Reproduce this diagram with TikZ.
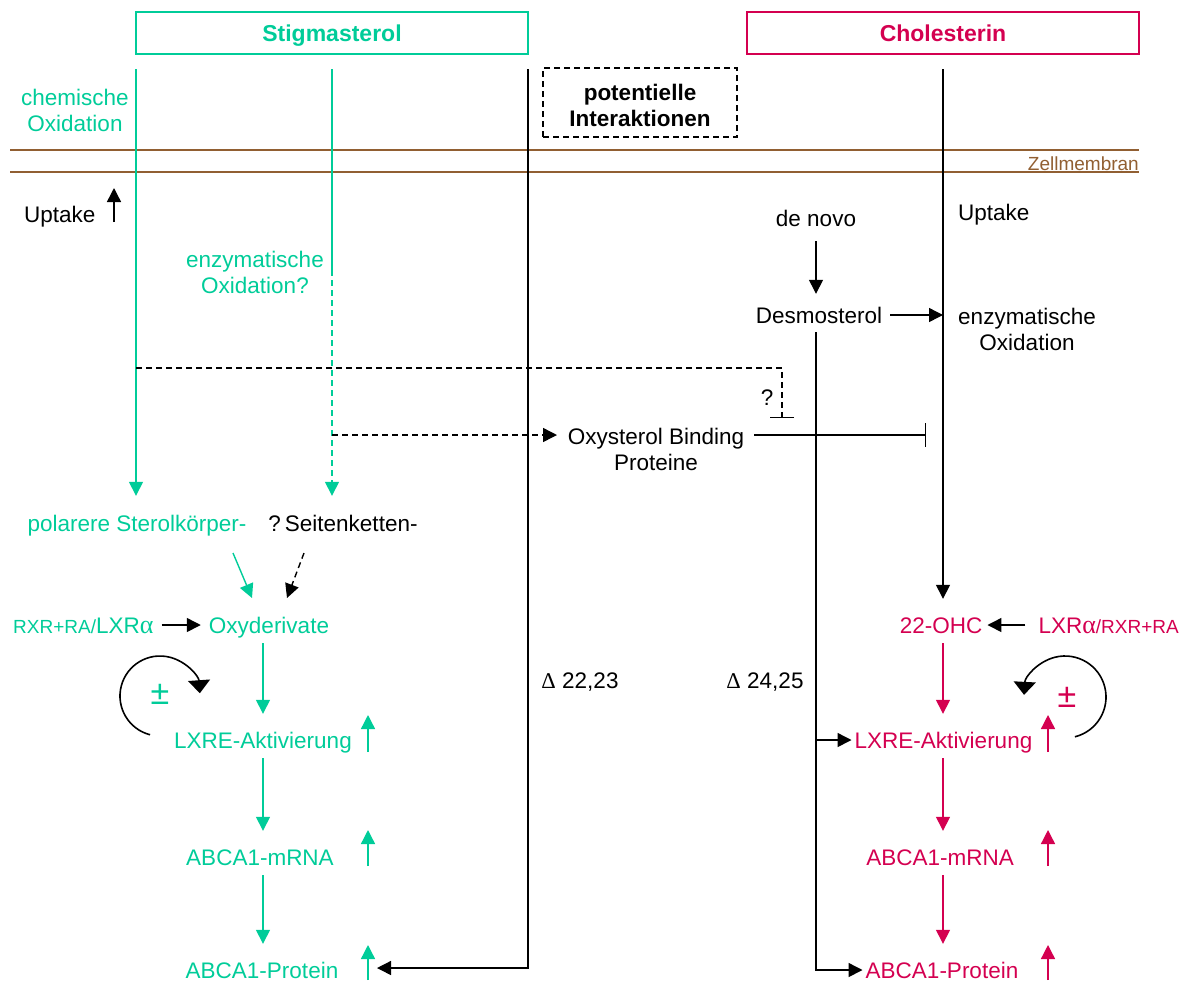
\documentclass[tikz,border=0pt]{standalone}
\usepackage{fontspec}
\setmainfont{Liberation Sans}
\newfontfamily\grk{Liberation Serif}
\usetikzlibrary{arrows.meta}
\definecolor{stgreen}{RGB}{0,204,153}
\definecolor{chred}{RGB}{212,0,80}
\definecolor{membr}{RGB}{145,95,50}

\tikzset{
  lbl/.style={inner sep=0pt, font=\fontsize{22.5}{26}\selectfont, align=center},
  oneline/.style={text height=18pt, text depth=2pt},
  ttl/.style={draw, line width=1.3pt, minimum width=392pt, minimum height=42pt, inner sep=0pt,
              text height=18pt, text depth=2pt, font=\fontsize{23}{26}\selectfont\bfseries},
  con/.style={line width=1.4pt},
  arr/.style={-{Triangle[width=14pt,length=14pt]}},
  uptip/.style={con, -{Triangle[width=14pt,length=14pt]}},
  cyc/.style={line width=1.6pt, -{Triangle[width=22pt,length=13pt]}},
  inhib/.style={-{Bar[width=24pt]}},
  dsh/.style={dash pattern=on 6pt off 4pt},
  cascade/.style={con, arr, shorten <=8pt, shorten >=16pt},
  pmsign/.style={inner sep=0pt, font=\fontsize{34}{34}\selectfont},
  small/.style={font=\fontsize{19}{22}\selectfont},
}
\newcommand{\smalltxt}[1]{{\fontsize{19}{22}\selectfont #1}}
\newcommand{\alphasym}{{\fontsize{26}{26}\selectfont\grk α}}

\begin{document}
\begin{tikzpicture}[x=1pt,y=1pt]
\useasboundingbox (0,0) rectangle (1193,-983);

% ---------- headers ----------
\node[ttl, draw=stgreen, text=stgreen] (stig) at (332,-33) {Stigmasterol};
\node[ttl, draw=chred, text=chred] (chol) at (943,-33) {Cholesterin};
\node[draw, dsh, line width=1.5pt, minimum width=194pt, minimum height=69pt] (pot) at (640,-102.5) {};
\node[lbl, font=\fontsize{22.5}{26}\selectfont\bfseries] (potT) at (640,-105.5) {potentielle\\Interaktionen};

% ---------- cell membrane ----------
\coordinate (memA) at (10,-150);  \coordinate (memB) at (1139,-150);
\coordinate (memC) at (10,-172);  \coordinate (memD) at (1139,-172);
\draw[membr, line width=2pt] (memA) -- (memB) (memC) -- (memD);
\node[lbl, oneline, small, text=membr, anchor=east] (zm) at (1139,-162) {Zellmembran};

% ---------- stigmasterol side ----------
\node[lbl, text=stgreen] (chemox) at (75,-110) {chemische\\Oxidation};
\node[lbl, oneline, anchor=west] (uptL) at (24,-214) {Uptake};
\node[lbl, text=stgreen] (enzG) at (255,-272) {enzymatische\\Oxidation?};
\node[lbl, oneline, text=stgreen] (pol) at (137,-523) {polarere Sterolkörper-};
\node[lbl, oneline] (seit) at (343,-523) {?\hspace{4pt}Seitenketten-};
\node[lbl, oneline, text=stgreen, anchor=west] (rxrL) at (13,-625)
     {\smalltxt{RXR+RA/}LXR\alphasym};
\node[lbl, oneline, text=stgreen] (oxy) at (269,-625) {Oxyderivate};
\node[lbl, oneline, text=stgreen] (lxreG) at (263,-740) {LXRE-Aktivierung};
\node[lbl, oneline, text=stgreen] (mrnaG) at (260,-857) {ABCA1-mRNA};
\node[lbl, oneline, text=stgreen] (protG) at (262,-970) {ABCA1-Protein};
\node[pmsign, text=stgreen] (pmG) at (160,-694) {±};

% ---------- cholesterol side ----------
\node[lbl, oneline, anchor=west] (uptR) at (958,-212) {Uptake};
\node[lbl, oneline] (dn) at (816,-218) {de novo};
\node[lbl, oneline] (des) at (819,-315) {Desmosterol};
\node[lbl] (enzR) at (1027,-329) {enzymatische\\Oxidation};
\node[lbl, oneline, text=chred] (ohc) at (941,-625) {22-OHC};
\node[lbl, oneline, text=chred, anchor=east] (rxrR) at (1179,-625)
     {LXR\alphasym\smalltxt{/RXR+RA}};
\node[lbl, oneline, text=chred] (lxreR) at (943.5,-740) {LXRE-Aktivierung};
\node[lbl, oneline, text=chred] (mrnaR) at (940,-857) {ABCA1-mRNA};
\node[lbl, oneline, text=chred] (protR) at (942,-970) {ABCA1-Protein};
\node[pmsign, text=chred] (pmR) at (1067,-697) {±};

% ---------- interactions ----------
\node[lbl] (obp) at (656,-449) {Oxysterol Binding\\Proteine};
\node[lbl, oneline] (q) at (767,-397) {?};
\node[lbl, oneline] (d22) at (580,-680) {{\grk Δ} 22,23};
\node[lbl, oneline] (d24) at (765,-680) {{\grk Δ} 24,25};

% ---------- column lines ----------
\coordinate (gA) at (136,-69);
\coordinate (gB) at (332,-69);
\coordinate (gBd) at (332,-270);
\coordinate (bA) at (528,-69);
\coordinate (cA) at (943,-69);
\coordinate (bEnd) at (377,-968);

\draw[con, stgreen, arr, shorten >=17pt] (gA) -- (gA |- pol.north);
\draw[con, stgreen] (gB) -- (gBd);
\draw[con, stgreen, dsh, arr, shorten >=17pt] (gBd) -- (gBd |- pol.north);
\draw[con, arr] (bA) |- (bEnd);
\draw[con, arr, shorten >=16pt] (cA) -- (cA |- ohc.north);

% de novo synthesis
\draw[con, arr, shorten <=13pt, shorten >=11pt] (dn.south) -- (dn.south |- des.north);
\draw[con, arr, shorten <=8pt] (des.east) -- (cA |- des.east);
\draw[con, arr, shorten <=7pt, shorten >=3pt] (dn.south |- des.south) |- (protR.west);
\draw[con, arr, shorten >=3pt] (dn.south |- lxreR.west) -- (lxreR.west);

% dashed inhibition
\coordinate (dq1) at (136,-368);
\coordinate (dq2) at (782,-368);
\coordinate (dq3) at (782,-418);
\draw[con, dsh, inhib] (dq1) -- (dq2) -- (dq3);

% oxysterol binding proteins
\coordinate (obpIn) at (557,-435);
\coordinate (obpOut) at (754,-435);
\coordinate (inhEnd) at (926,-435);
\draw[con, dsh, arr] (gB |- obpIn) -- (obpIn);
\draw[con, inhib] (obpOut) -- (inhEnd);

% towards oxyderivates
\coordinate (p1) at (233,-553);  \coordinate (p2) at (252,-598);
\coordinate (s1) at (304,-553);  \coordinate (s2) at (287,-598);
\draw[con, stgreen, arr] (p1) -- (p2);
\draw[con, dsh, arr] (s1) -- (s2);
\draw[con, arr, shorten <=8pt, shorten >=8pt] (rxrL.east) -- (oxy.west);
\draw[con, arr, shorten <=13pt, shorten >=5pt] (rxrR.west) -- (ohc.east);

% cascades
\draw[cascade, stgreen] (oxy.south -| lxreG) -- (lxreG.north);
\draw[cascade, stgreen] (lxreG.south) -- (lxreG.south |- mrnaG.north);
\draw[cascade, stgreen] (mrnaG.south -| lxreG) -- (lxreG |- protG.north);
\draw[cascade, chred] (ohc.south -| cA) -- (cA |- lxreR.north);
\draw[cascade, chred] (cA |- lxreR.south) -- (cA |- mrnaR.north);
\draw[cascade, chred] (cA |- mrnaR.south) -- (cA |- protR.north);

% increase markers
\coordinate (uL1) at (114,-222);  \coordinate (uL2) at (114,-188);
\draw[uptip] (uL1) -- (uL2);
\coordinate (ugA1) at (368,-752);  \coordinate (ugA2) at (368,-715);
\coordinate (ugB1) at (368,-866);  \coordinate (ugB2) at (368,-830);
\coordinate (ugC1) at (368,-980);  \coordinate (ugC2) at (368,-945);
\draw[uptip, stgreen] (ugA1) -- (ugA2);
\draw[uptip, stgreen] (ugB1) -- (ugB2);
\draw[uptip, stgreen] (ugC1) -- (ugC2);
\coordinate (urA1) at (1048,-752);  \coordinate (urA2) at (1048,-715);
\coordinate (urB1) at (1048,-866);  \coordinate (urB2) at (1048,-830);
\coordinate (urC1) at (1048,-980);  \coordinate (urC2) at (1048,-945);
\draw[uptip, chred] (urA1) -- (urA2);
\draw[uptip, chred] (urB1) -- (urB2);
\draw[uptip, chred] (urC1) -- (urC2);

% feedback loops
\coordinate (cycG) at (160,-696);
\coordinate (cycR) at (1065,-697);
\draw[cyc] (cycG) ++(255.6:40) arc[start angle=255.6, end angle=4, radius=40];
\draw[cyc] (cycR) ++(-76:41) arc[start angle=-76, end angle=177, radius=41];
\end{tikzpicture}
\end{document}
